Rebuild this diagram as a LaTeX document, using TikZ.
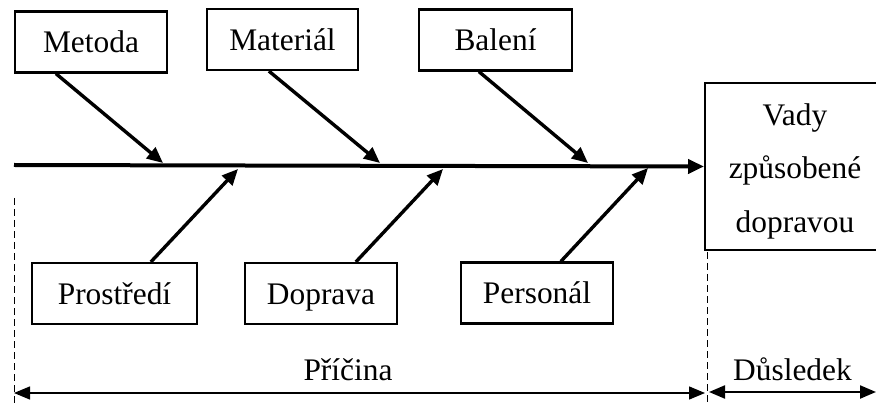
\documentclass[tikz,border=0pt]{standalone}
\usepackage{fontspec}
\setmainfont{Liberation Serif}
\usetikzlibrary{arrows.meta,positioning,calc}
\newcommand{\fishfont}{\fontsize{15.7pt}{26.75pt}\selectfont}

\begin{document}
\begin{tikzpicture}[x=0.5pt,y=-0.5pt,
  cause/.style={draw,line width=1.1pt,inner sep=0pt,minimum height=30.5pt,
    text height=10.7pt,text depth=0pt,font=\fishfont},
  bone/.style={line width=1.7pt,-{Triangle[length=8pt,width=7pt]}},
  spine/.style={line width=2pt,-{Triangle[length=8pt,width=7pt]}},
  spanarrow/.style={{Triangle[length=8pt,width=6.5pt]}-{Triangle[length=8pt,width=6.5pt]}},
  divider/.style={line width=0.5pt,dash pattern=on 3.5pt off 2pt}]
\useasboundingbox (0,0) rectangle (876,405);
% effect
\node[draw,line width=1pt,minimum width=87.5pt,minimum height=83.5pt] (vady) at (792.5,166.5) {};
\node[align=center,font=\fishfont] (vadytext) at (795,171) {Vady\\způsobené\\dopravou};
% causes
\node[cause,minimum width=76pt] (metoda) at (91,42) {Metoda};
\node[cause,minimum width=75.5pt] (material) at (282.5,39.5) {Materiál};
\node[cause,minimum width=76.5pt] (baleni) at (495.5,40) {Balení};
\node[cause,minimum width=82.5pt] (prostredi) at (114.5,293.5) {Prostředí};
\node[cause,minimum width=76pt] (doprava) at (321,293.5) {Doprava};
\node[cause,minimum width=76pt] (personal) at (537,293) {Personál};
% spine and bones
\coordinate (tail) at (14,165);
\coordinate (tmetoda) at (163,163);
\coordinate (tmaterial) at (380,163);
\coordinate (tbaleni) at (588,163);
\coordinate (tprostredi) at (238,169);
\coordinate (tdoprava) at (443,169);
\coordinate (tpersonal) at (648,168);
\draw[spine] (tail) -- (vady.west);
\draw[bone] (metoda.south west) ++(42,0) -- (tmetoda);
\draw[bone] (material.south west) ++(63,0) -- (tmaterial);
\draw[bone] (baleni.south west) ++(61,0) -- (tbaleni);
\draw[bone] (prostredi.north west) ++(120,0) -- (tprostredi);
\draw[bone] (doprava.north west) ++(112,0) -- (tdoprava);
\draw[bone] (personal.north west) ++(101,0) -- (tpersonal);
% cause / effect ranges
\coordinate (dl1) at (14,198);
\coordinate (dl2) at (14,405);
\coordinate (dr1) at (707,252);
\coordinate (dr2) at (707,405);
\draw[divider] (dl1) -- (dl2);
\draw[divider] (dr1) -- (dr2);
\coordinate (pl) at (14,393);
\coordinate (pr) at (705,393);
\coordinate (el) at (709,392);
\coordinate (er) at (876,392);
\draw[spanarrow,line width=0.7pt] (pl) -- (pr);
\draw[spanarrow,line width=1.1pt] (el) -- (er);
\node[anchor=base,font=\fishfont] (pricina) at (348,380) {Příčina};
\node[anchor=base,font=\fishfont] (dusledek) at (792.5,380) {Důsledek};
\end{tikzpicture}
\end{document}
